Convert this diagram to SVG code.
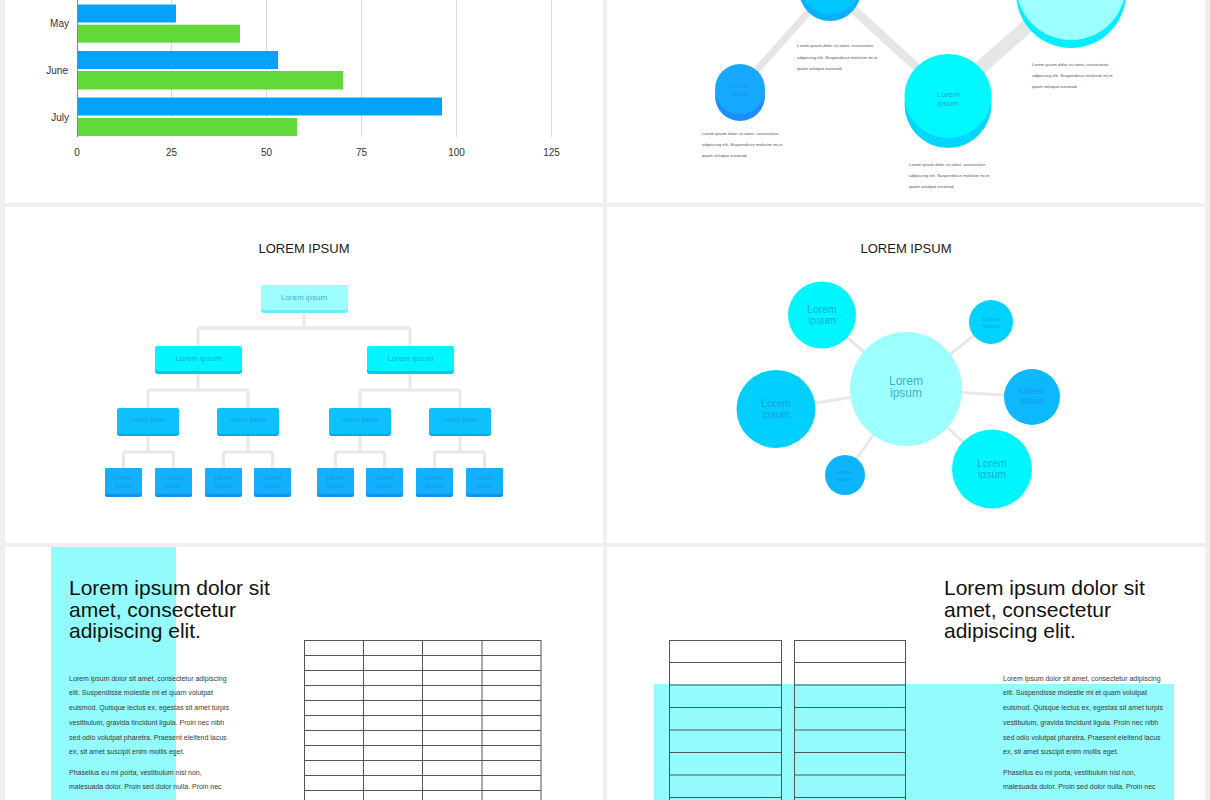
<svg xmlns="http://www.w3.org/2000/svg" width="1210" height="800" viewBox="0 0 1210 800">
<style>
text{font-family:"Liberation Sans",Arial,sans-serif}
.panel{fill:#ffffff}
.grid{stroke:#d9d9d9;stroke-width:1}
.axl{font-size:10px;fill:#333}
.blue{fill:#03A3FB}
.green{fill:#62D93B}
.tiny{font-size:4.3px;fill:#555}
.conn{stroke:#E6E6E6;fill:none;stroke-linecap:butt}
.oc{stroke:#E8E8E8;stroke-width:3;fill:none}
.lbl{fill:#1690CC;fill-opacity:0.75;text-anchor:middle}
.title{font-size:13px;fill:#1a1a1a;text-anchor:middle}
.big{font-size:21px;fill:#111}
.body{font-size:7px;fill:#3a3a3a}
.tbl{stroke:#555;stroke-width:1;fill:none}
.r0{fill:#9EFDFF}.r0b{fill:#66EBFF}
.r1{fill:#00F6FF}.r1b{fill:#00C8F2}
.r2{fill:#0DC2FF}.r2b{fill:#00A8EE}
.r3{fill:#13B0FF}.r3b{fill:#1A8EF0}
</style>
<rect x="0" y="0" width="1210" height="800" fill="#EFEFEF"/>
<rect class="panel" x="5" y="0" width="598" height="203"/>
<rect class="panel" x="607" y="0" width="598" height="203"/>
<rect class="panel" x="5" y="207" width="598" height="336"/>
<rect class="panel" x="607" y="207" width="598" height="336"/>
<rect class="panel" x="5" y="547" width="598" height="253"/>
<rect class="panel" x="607" y="547" width="598" height="253"/>

<!-- Bar chart -->
<g id="bar-chart">
<g id="gridlines">
<line class="grid" x1="171.5" y1="0" x2="171.5" y2="137"/>
<line class="grid" x1="266.5" y1="0" x2="266.5" y2="137"/>
<line class="grid" x1="361.5" y1="0" x2="361.5" y2="137"/>
<line class="grid" x1="456.5" y1="0" x2="456.5" y2="137"/>
<line class="grid" x1="551.5" y1="0" x2="551.5" y2="137"/>
</g>
<g id="bars">
<rect class="blue" x="77" y="4.5" width="99" height="18"/>
<rect class="green" x="77" y="24.7" width="163" height="18"/>
<rect class="blue" x="77" y="51" width="201" height="18"/>
<rect class="green" x="77" y="71" width="266" height="18.5"/>
<rect class="blue" x="77" y="97.5" width="365" height="18"/>
<rect class="green" x="77" y="118" width="220" height="18"/>
</g>
<line x1="77.5" y1="0" x2="77.5" y2="137" stroke="#888" stroke-width="1"/>
<g id="bar-labels" class="axl">
<text x="69" y="27" text-anchor="end">May</text>
<text x="68" y="74" text-anchor="end">June</text>
<text x="69" y="120.5" text-anchor="end">July</text>
<text x="77" y="155.5" text-anchor="middle">0</text>
<text x="171.5" y="155.5" text-anchor="middle">25</text>
<text x="266.5" y="155.5" text-anchor="middle">50</text>
<text x="361.5" y="155.5" text-anchor="middle">75</text>
<text x="456.5" y="155.5" text-anchor="middle">100</text>
<text x="551.5" y="155.5" text-anchor="middle">125</text>
</g>
</g>

<!-- Top-right disc timeline -->
<g id="disc-connectors">
<line class="conn" x1="740" y1="89" x2="830" y2="-12" stroke-width="7"/>
<line class="conn" x1="830" y1="-12" x2="948" y2="96" stroke-width="9"/>
<line class="conn" x1="948" y1="96" x2="1071" y2="-12" stroke-width="14"/>
</g>
<g id="disc-1">
<ellipse cx="740" cy="96" rx="25" ry="25" fill="#1E8EFF"/>
<ellipse cx="740" cy="89" rx="25" ry="25" fill="#17A9FF"/>
<text class="lbl" x="740" y="88" font-size="6.5">Lorem</text>
<text class="lbl" x="740" y="96" font-size="6.5">ipsum</text>
</g>
<g id="disc-2">
<ellipse cx="830" cy="-10" rx="31" ry="31" fill="#0AB0FF"/>
<ellipse cx="830" cy="-17" rx="31" ry="31" fill="#00C8FF"/>
</g>
<g id="disc-3">
<ellipse cx="948" cy="104" rx="43.5" ry="44" fill="#00D6FF"/>
<ellipse cx="948" cy="96" rx="43.5" ry="42" fill="#00F8FF"/>
<text class="lbl" x="948" y="96.5" font-size="8">Lorem</text>
<text class="lbl" x="948" y="105.5" font-size="8">ipsum</text>
</g>
<g id="disc-4">
<ellipse cx="1071" cy="-7" rx="55" ry="55" fill="#00EEFF"/>
<ellipse cx="1071" cy="-15" rx="55" ry="55" fill="#9EFFFF"/>
</g>
<g id="disc-texts" class="tiny">
<text x="797" y="47">Lorem ipsum dolor sit amet, consectetur</text>
<text x="797" y="58.5">adipiscing elit. Suspendisse molestie mi et</text>
<text x="797" y="69.5">quam volutpat euismod.</text>
<text x="702" y="134.5">Lorem ipsum dolor sit amet, consectetur</text>
<text x="702" y="145.5">adipiscing elit. Suspendisse molestie mi et</text>
<text x="702" y="156.5">quam volutpat euismod.</text>
<text x="909" y="165.5">Lorem ipsum dolor sit amet, consectetur</text>
<text x="909" y="176.5">adipiscing elit. Suspendisse molestie mi et</text>
<text x="909" y="187.5">quam volutpat euismod.</text>
<text x="1032" y="65.5">Lorem ipsum dolor sit amet, consectetur</text>
<text x="1032" y="76.5">adipiscing elit. Suspendisse molestie mi et</text>
<text x="1032" y="87.5">quam volutpat euismod.</text>
</g>

<!-- Org chart -->
<text class="title" x="304" y="253">LOREM IPSUM</text>
<g id="org-connectors">
<path class="oc" d="M304 313V328M198 328H410M198 328V346M410 328V346"/>
<path class="oc" d="M198 374V390M148 390H248M148 390V408M248 390V408"/>
<path class="oc" d="M410 374V390M360 390H460M360 390V408M460 390V408"/>
<path class="oc" d="M148 436V452M123.5 452H173.5M123.5 452V468M173.5 452V468"/>
<path class="oc" d="M248 436V452M223.5 452H272.5M223.5 452V468M272.5 452V468"/>
<path class="oc" d="M360 436V452M335.5 452H384.5M335.5 452V468M384.5 452V468"/>
<path class="oc" d="M460 436V452M434.5 452H484.5M434.5 452V468M484.5 452V468"/>
</g>
<g id="org-root">
<rect class="r0b" x="261" y="285" width="87" height="28" rx="3"/>
<rect class="r0" x="261" y="285" width="87" height="25" rx="3"/>
<text class="lbl" x="304" y="300" font-size="8">Lorem ipsum</text>
</g>
<g id="org-l2a">
<rect class="r1b" x="155" y="346" width="87" height="28" rx="3"/>
<rect class="r1" x="155" y="346" width="87" height="25" rx="3"/>
<text class="lbl" x="198.5" y="360.5" font-size="8">Lorem ipsum</text>
</g>
<g id="org-l2b">
<rect class="r1b" x="367" y="346" width="87" height="28" rx="3"/>
<rect class="r1" x="367" y="346" width="87" height="25" rx="3"/>
<text class="lbl" x="410.5" y="360.5" font-size="8">Lorem ipsum</text>
</g>
<g id="org-l3a">
<rect class="r2b" x="117" y="408" width="62" height="28" rx="3"/>
<rect class="r2" x="117" y="408" width="62" height="26" rx="3"/>
<text class="lbl" x="148" y="422" font-size="6.5">Lorem ipsum</text>
</g>
<g id="org-l3b">
<rect class="r2b" x="217" y="408" width="62" height="28" rx="3"/>
<rect class="r2" x="217" y="408" width="62" height="26" rx="3"/>
<text class="lbl" x="248" y="422" font-size="6.5">Lorem ipsum</text>
</g>
<g id="org-l3c">
<rect class="r2b" x="329" y="408" width="62" height="28" rx="3"/>
<rect class="r2" x="329" y="408" width="62" height="26" rx="3"/>
<text class="lbl" x="360" y="422" font-size="6.5">Lorem ipsum</text>
</g>
<g id="org-l3d">
<rect class="r2b" x="429" y="408" width="62" height="28" rx="3"/>
<rect class="r2" x="429" y="408" width="62" height="26" rx="3"/>
<text class="lbl" x="460" y="422" font-size="6.5">Lorem ipsum</text>
</g>
<g id="org-leaf-1"><rect class="r3b" x="105" y="468" width="37" height="29" rx="2"/><rect class="r3" x="105" y="468" width="37" height="26" rx="2"/><text class="lbl" x="123.5" y="480" font-size="6.5">Lorem</text><text class="lbl" x="123.5" y="487.5" font-size="6.5">ipsum</text></g>
<g id="org-leaf-2"><rect class="r3b" x="155" y="468" width="37" height="29" rx="2"/><rect class="r3" x="155" y="468" width="37" height="26" rx="2"/><text class="lbl" x="173.5" y="480" font-size="6.5">Lorem</text><text class="lbl" x="173.5" y="487.5" font-size="6.5">ipsum</text></g>
<g id="org-leaf-3"><rect class="r3b" x="205" y="468" width="37" height="29" rx="2"/><rect class="r3" x="205" y="468" width="37" height="26" rx="2"/><text class="lbl" x="223.5" y="480" font-size="6.5">Lorem</text><text class="lbl" x="223.5" y="487.5" font-size="6.5">ipsum</text></g>
<g id="org-leaf-4"><rect class="r3b" x="254" y="468" width="37" height="29" rx="2"/><rect class="r3" x="254" y="468" width="37" height="26" rx="2"/><text class="lbl" x="272.5" y="480" font-size="6.5">Lorem</text><text class="lbl" x="272.5" y="487.5" font-size="6.5">ipsum</text></g>
<g id="org-leaf-5"><rect class="r3b" x="317" y="468" width="37" height="29" rx="2"/><rect class="r3" x="317" y="468" width="37" height="26" rx="2"/><text class="lbl" x="335.5" y="480" font-size="6.5">Lorem</text><text class="lbl" x="335.5" y="487.5" font-size="6.5">ipsum</text></g>
<g id="org-leaf-6"><rect class="r3b" x="366" y="468" width="37" height="29" rx="2"/><rect class="r3" x="366" y="468" width="37" height="26" rx="2"/><text class="lbl" x="384.5" y="480" font-size="6.5">Lorem</text><text class="lbl" x="384.5" y="487.5" font-size="6.5">ipsum</text></g>
<g id="org-leaf-7"><rect class="r3b" x="416" y="468" width="37" height="29" rx="2"/><rect class="r3" x="416" y="468" width="37" height="26" rx="2"/><text class="lbl" x="434.5" y="480" font-size="6.5">Lorem</text><text class="lbl" x="434.5" y="487.5" font-size="6.5">ipsum</text></g>
<g id="org-leaf-8"><rect class="r3b" x="466" y="468" width="37" height="29" rx="2"/><rect class="r3" x="466" y="468" width="37" height="26" rx="2"/><text class="lbl" x="484.5" y="480" font-size="6.5">Lorem</text><text class="lbl" x="484.5" y="487.5" font-size="6.5">ipsum</text></g>

<!-- Bubble chart -->
<text class="title" x="906" y="253">LOREM IPSUM</text>
<g id="bubble-connectors" stroke="#E8E8E8" stroke-width="3">
<line x1="906" y1="389" x2="822" y2="315"/>
<line x1="906" y1="389" x2="991" y2="322"/>
<line x1="906" y1="389" x2="1032" y2="397"/>
<line x1="906" y1="389" x2="992" y2="469"/>
<line x1="906" y1="389" x2="845" y2="475"/>
<line x1="906" y1="389" x2="776" y2="409"/>
</g>
<g id="bubble-center"><ellipse cx="906" cy="389" rx="56" ry="57" fill="#9EFFFF"/><text class="lbl" x="906" y="385" font-size="12">Lorem</text><text class="lbl" x="906" y="397" font-size="12">ipsum</text></g>
<g id="bubble-tl"><ellipse cx="822" cy="315" rx="34" ry="33.5" fill="#00F6FF"/><text class="lbl" x="822" y="313" font-size="10.5">Lorem</text><text class="lbl" x="822" y="324" font-size="10.5">ipsum</text></g>
<g id="bubble-tr"><circle cx="991" cy="322" r="22" fill="#00D2FF"/><text class="lbl" x="991" y="321" font-size="6">Lorem</text><text class="lbl" x="991" y="328" font-size="6">ipsum</text></g>
<g id="bubble-r"><ellipse cx="1032" cy="397" rx="28" ry="28" fill="#0DB8FF"/><text class="lbl" x="1032" y="394" font-size="9">Lorem</text><text class="lbl" x="1032" y="404" font-size="9">ipsum</text></g>
<g id="bubble-br"><ellipse cx="992" cy="469" rx="40" ry="39.5" fill="#00F6FF"/><text class="lbl" x="992" y="467" font-size="10.5">Lorem</text><text class="lbl" x="992" y="478" font-size="10.5">ipsum</text></g>
<g id="bubble-b"><ellipse cx="845" cy="475" rx="20" ry="20" fill="#0DB4FF"/><text class="lbl" x="845" y="474" font-size="6">Lorem</text><text class="lbl" x="845" y="481" font-size="6">ipsum</text></g>
<g id="bubble-l"><ellipse cx="776" cy="409" rx="39.5" ry="39" fill="#00CFFF"/><text class="lbl" x="776" y="407" font-size="10.5">Lorem</text><text class="lbl" x="776" y="418" font-size="10.5">ipsum</text></g>

<!-- Bottom-left slide -->
<rect x="51" y="547" width="125" height="253" fill="#93FBFB"/>
<g id="bl-title" class="big">
<text x="69" y="595">Lorem ipsum dolor sit</text>
<text x="69" y="617">amet, consectetur</text>
<text x="69" y="638">adipiscing elit.</text>
</g>
<g id="bl-body" class="body">
<text x="69" y="680.5">Lorem ipsum dolor sit amet, consectetur adipiscing</text>
<text x="69" y="695">elit. Suspendisse molestie mi et quam volutpat</text>
<text x="69" y="710">euismod. Quisque lectus ex, egestas sit amet turpis</text>
<text x="69" y="724.5">vestibulum, gravida tincidunt ligula. Proin nec nibh</text>
<text x="69" y="739.5">sed odio volutpat pharetra. Praesent eleifend lacus</text>
<text x="69" y="753.5">ex, sit amet suscipit enim mollis eget.</text>
<text x="69" y="775">Phasellus eu mi porta, vestibulum nisl non,</text>
<text x="69" y="789">malesuada dolor. Proin sed dolor nulla. Proin nec</text>
</g>
<g id="bl-table" class="tbl">
<path d="M304 640.5H541M304 655.5H541M304 670.5H541M304 685.5H541M304 700.5H541M304 715.5H541M304 730.5H541M304 745.5H541M304 760.5H541M304 775.5H541M304 790.5H541"/>
<path d="M304.5 640V800M363.5 640V800M422.5 640V800M482 640V800M541 640V800"/>
</g>

<!-- Bottom-right slide -->
<rect x="654" y="684" width="520" height="116" fill="#93FBFB"/>
<g id="br-title" class="big">
<text x="944" y="595">Lorem ipsum dolor sit</text>
<text x="944" y="617">amet, consectetur</text>
<text x="944" y="638">adipiscing elit.</text>
</g>
<g id="br-body" class="body">
<text x="1003" y="680.5">Lorem ipsum dolor sit amet, consectetur adipiscing</text>
<text x="1003" y="695">elit. Suspendisse molestie mi et quam volutpat</text>
<text x="1003" y="710">euismod. Quisque lectus ex, egestas sit amet turpis</text>
<text x="1003" y="724.5">vestibulum, gravida tincidunt ligula. Proin nec nibh</text>
<text x="1003" y="739.5">sed odio volutpat pharetra. Praesent eleifend lacus</text>
<text x="1003" y="753.5">ex, sit amet suscipit enim mollis eget.</text>
<text x="1003" y="775">Phasellus eu mi porta, vestibulum nisl non,</text>
<text x="1003" y="789">malesuada dolor. Proin sed dolor nulla. Proin nec</text>
</g>
<g id="br-table-1" class="tbl">
<path d="M669 640.5H782M669 662.5H782M669 685H782M669 707.5H782M669 730H782M669 752.5H782M669 775H782M669 797.5H782"/>
<path d="M669.5 640V800M781.5 640V800"/>
</g>
<g id="br-table-2" class="tbl">
<path d="M794 640.5H906M794 662.5H906M794 685H906M794 707.5H906M794 730H906M794 752.5H906M794 775H906M794 797.5H906"/>
<path d="M794.5 640V800M905.5 640V800"/>
</g>
</svg>
